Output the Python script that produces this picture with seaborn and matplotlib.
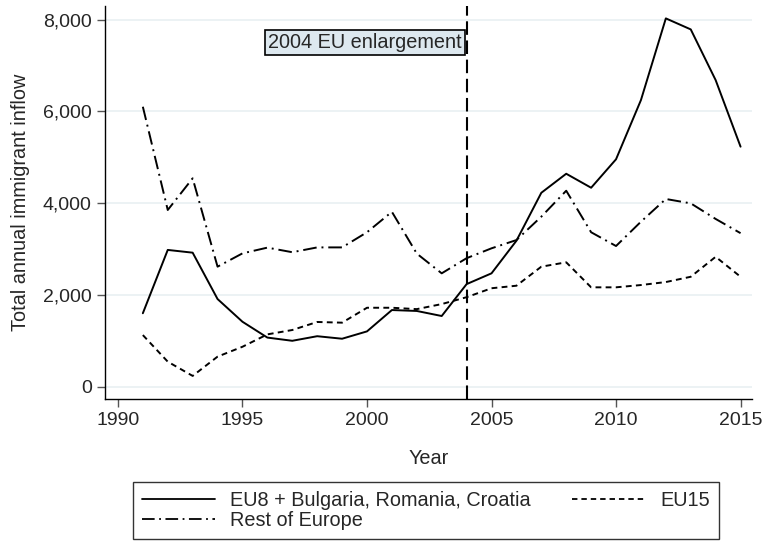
import numpy as np
import pandas as pd
import matplotlib
matplotlib.use('Agg')
import matplotlib.pyplot as plt
import seaborn as sns
from matplotlib.ticker import FuncFormatter

# データ
years = list(range(1991, 2016))
eu8 = [1600, 2980, 2920, 1910, 1415, 1070, 1000, 1100, 1045, 1205, 1670, 1650, 1540, 2235,
       2470, 3180, 4225, 4640, 4335, 4955, 6245, 8025, 7785, 6680, 5230]
eu15 = [1125, 545, 235, 655, 870, 1140, 1235, 1410, 1395, 1720, 1720, 1690, 1800, 1950,
        2145, 2200, 2615, 2710, 2165, 2165, 2215, 2280, 2395, 2830, 2395]
rest = [6100, 3850, 4540, 2615, 2905, 3030, 2930, 3035, 3035, 3365, 3810, 2900, 2470, 2800,
        3015, 3195, 3705, 4270, 3365, 3065, 3595, 4090, 3995, 3655, 3345]
labels = ['EU8 + Bulgaria, Romania, Croatia', 'EU15', 'Rest of Europe']
y_ticks = [0, 2000, 4000, 6000, 8000]
x_ticks = [1990, 1995, 2000, 2005, 2010, 2015]

df = pd.DataFrame({'Year': years * 3,
                   'inflow': eu8 + eu15 + rest,
                   'region': [labels[0]] * 25 + [labels[1]] * 25 + [labels[2]] * 25})

sns.set_style('white')
plt.rcParams['font.family'] = ['Liberation Sans', 'DejaVu Sans']
FS = 14.3

fig = plt.figure(figsize=(7.63, 5.41), dpi=100)
ax = fig.add_axes([0.1376, 0.2625, 0.848, 0.7265])

dash_styles = {labels[0]: '', labels[1]: (3, 2.2), labels[2]: (7, 2.5, 1, 2.5)}
sns.lineplot(data=df, x='Year', y='inflow', hue='region', style='region',
             palette=['black'] * 3, dashes=dash_styles, linewidth=1.4, ax=ax, legend=False)

# 2004年のEU拡大
ax.axvline(2004, color='black', linestyle=(0, (6.5, 2.7)), linewidth=1.5)
ax.text(2003.8, 7510, '2004 EU enlargement', ha='right', va='center', fontsize=FS,
        bbox=dict(boxstyle='square,pad=0.15', facecolor='#dde8ef', edgecolor='black', linewidth=1.2))

ax.set_xlim(1989.48, 2015.46)
ax.set_ylim(-268, 8296)
ax.set_xticks(x_ticks)
ax.set_yticks(y_ticks)
ax.yaxis.set_major_formatter(FuncFormatter(lambda v, p: f'{int(v):,}'))
ax.grid(axis='y', color='#eaf1f3', linewidth=1.3)
ax.grid(axis='x', visible=False)
sns.despine(ax=ax)
for s in ['left', 'bottom']:
    ax.spines[s].set_color('black')
    ax.spines[s].set_linewidth(1.0)
ax.tick_params(axis='both', direction='out', length=5.5, width=1, color='#555555',
               labelsize=14, left=True, bottom=True, pad=4)
ax.set_xlabel('Year', fontsize=FS, labelpad=14)
ax.set_ylabel('Total annual immigrant inflow', fontsize=FS, labelpad=9)

# 凡例
handles = [plt.Line2D([], [], color='black', linewidth=1.3, linestyle='-'),
           plt.Line2D([], [], color='black', linewidth=1.3, linestyle=(0, (7, 2.5, 1, 2.5))),
           plt.Line2D([], [], color='black', linewidth=1.3, linestyle=(0, (3, 2.2)))]
leg = fig.legend(handles, [labels[0], labels[2], labels[1]], ncol=2,
                 loc='upper left', bbox_to_anchor=(0.174, 0.109, 0.768, 0.0), mode='expand',
                 fontsize=FS, frameon=True, fancybox=False, edgecolor='black',
                 handlelength=3.7, borderpad=0.45, labelspacing=0.05, columnspacing=2.0,
                 handletextpad=0.75, borderaxespad=0)
leg.get_frame().set_linewidth(1.0)

fig.savefig('out.png', dpi=100)
